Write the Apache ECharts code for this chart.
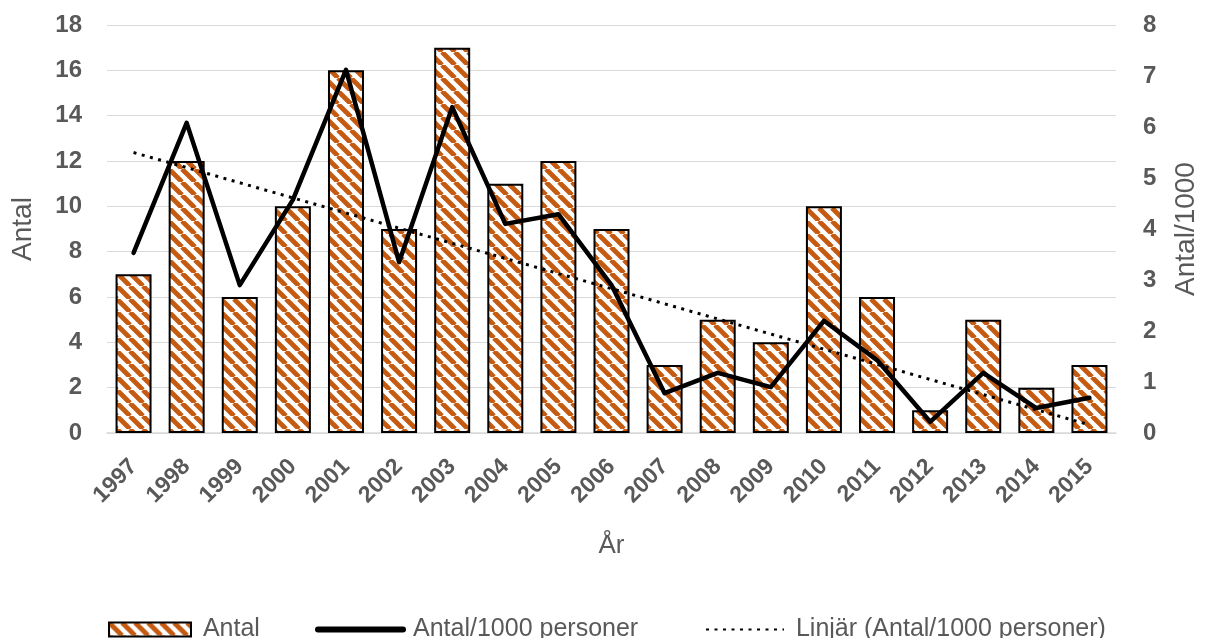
<!DOCTYPE html>
<html>
<head>
<meta charset="utf-8">
<script src="https://cdn.jsdelivr.net/npm/echarts@6/dist/echarts.min.js"></script>
<style>
  html, body { margin: 0; padding: 0; background: #fff; }
  #chart { width: 1208px; height: 638px; }
</style>
</head>
<body>
<div id="chart"></div>
<script>
// år
const years = ['1997', '1998', '1999', '2000', '2001', '2002', '2003', '2004', '2005', '2006',
  '2007', '2008', '2009', '2010', '2011', '2012', '2013', '2014', '2015']
// antal (vänster axel)
const antal = [7, 12, 6, 10, 16, 9, 17, 11, 12, 9, 3, 5, 4, 10, 6, 1, 5, 2, 3]
// antal per 1000 personer (höger axel)
const perTusen = [3.53, 6.08, 2.9, 4.57, 7.12, 3.35, 6.39, 4.1, 4.29, 2.9,
  0.78, 1.18, 0.9, 2.2, 1.43, 0.22, 1.18, 0.49, 0.69]
// linjär trend, avläst vid ändpunkterna
const trend = [5.5, null, null, null, null, null, null, null, null, null,
  null, null, null, null, null, null, null, null, 0.16]

const textColor = '#595959'
const orange = '#C55A11'

// randigt mönster för staplarna
function makeStripes() {
  const size = 13
  const c = document.createElement('canvas')
  c.width = size
  c.height = size
  const ctx = c.getContext('2d')
  ctx.fillStyle = '#fff'
  ctx.fillRect(0, 0, size, size)
  ctx.strokeStyle = orange
  ctx.lineWidth = 4.8
  for (let o = -size; o <= size; o += size) {
    ctx.beginPath()
    ctx.moveTo(o, 0)
    ctx.lineTo(o + size, size)
    ctx.stroke()
  }
  return c
}

const chart = echarts.init(document.getElementById('chart'))
const font = 'Liberation Sans, Arial, sans-serif'
const legendText = { color: textColor, fontSize: 25, fontFamily: font }

chart.setOption({
  animation: false,
  textStyle: { fontFamily: font },
  grid: { left: 107, right: 88, top: 25, bottom: 205, containLabel: false },
  legend: [
    {
      data: [{ name: 'Antal', icon: 'rect' }], left: 103, top: 612, itemWidth: 82, itemHeight: 14,
      formatter: ' {name}', textStyle: legendText,
      itemStyle: { borderColor: '#000', borderWidth: 2 }
    },
    {
      data: ['Antal/1000 personer'], left: 310, top: 612, itemWidth: 85, itemHeight: 14,
      formatter: '\u2009{name}', textStyle: legendText,
      itemStyle: { opacity: 0 }, lineStyle: { width: 6 }
    },
    {
      data: ['Linjär (Antal/1000 personer)'], left: 700, top: 612, itemWidth: 78, itemHeight: 14,
      formatter: ' {name}', textStyle: legendText,
      itemStyle: { opacity: 0 }
    }
  ],
  xAxis: {
    type: 'category',
    data: years,
    name: 'År',
    nameLocation: 'middle',
    nameGap: 100,
    nameTextStyle: { color: textColor, fontSize: 26 },
    axisLine: { lineStyle: { color: '#d9d9d9', width: 1.5 } },
    axisTick: { show: false },
    axisLabel: {
      rotate: 45, color: textColor, fontSize: 23, fontWeight: 'bold',
      margin: 30, interval: 0
    }
  },
  yAxis: [
    {
      type: 'value', min: 0, max: 18, interval: 2,
      name: 'Antal', nameLocation: 'middle', nameGap: 70, nameRotate: 90,
      nameTextStyle: { color: textColor, fontSize: 28 },
      axisLabel: { color: textColor, fontSize: 24, fontWeight: 'bold', margin: 25 },
      splitLine: { lineStyle: { color: '#d9d9d9', width: 1 } }
    },
    {
      type: 'value', min: 0, max: 8, interval: 1,
      name: 'Antal/1000', nameLocation: 'middle', nameGap: 56, nameRotate: 90,
      nameTextStyle: { color: textColor, fontSize: 28 },
      axisLabel: { color: textColor, fontSize: 24, fontWeight: 'bold', margin: 27 },
      splitLine: { show: false }
    }
  ],
  series: [
    {
      name: 'Antal',
      type: 'bar',
      data: antal,
      barWidth: 36,
      itemStyle: {
        color: { image: makeStripes(), repeat: 'repeat' },
        borderColor: '#000',
        borderWidth: 2
      }
    },
    {
      name: 'Antal/1000 personer',
      type: 'line',
      yAxisIndex: 1,
      data: perTusen,
      symbol: 'none',
      lineStyle: { color: '#000', width: 4.5, cap: 'round', join: 'round' },
      itemStyle: { color: '#000' },
      z: 3
    },
    {
      name: 'Linjär (Antal/1000 personer)',
      type: 'line',
      yAxisIndex: 1,
      data: trend,
      connectNulls: true,
      symbol: 'none',
      lineStyle: { color: '#000', width: 3, type: [3, 5.5] },
      itemStyle: { color: '#000' },
      z: 4
    }
  ]
})
</script>
</body>
</html>
